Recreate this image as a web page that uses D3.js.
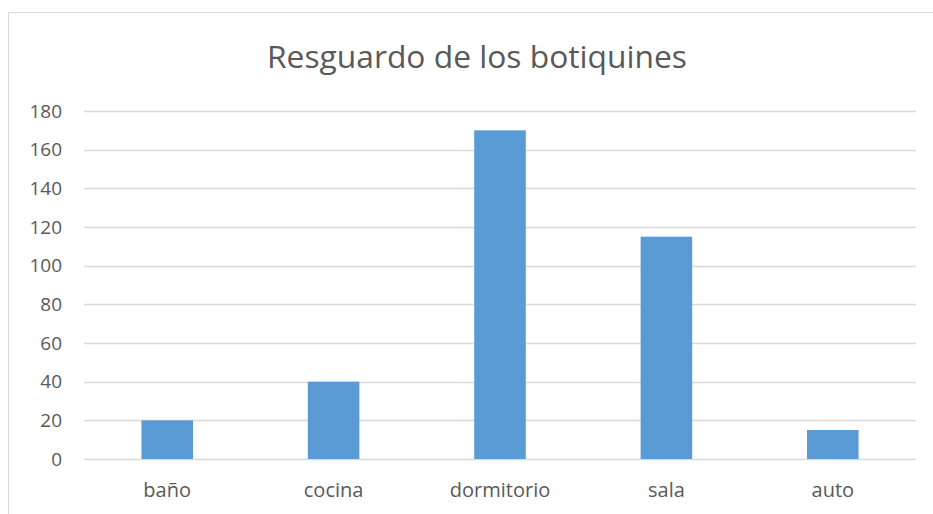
<!DOCTYPE html>
<html>
<head>
<meta charset="utf-8">
<script src="https://cdn.jsdelivr.net/npm/d3@7"></script>
<style>
  body { margin: 0; background: #fff; }
  text { font-family: "Open Sans", "Noto Sans", sans-serif; fill: #595959; }
</style>
</head>
<body>
<div id="chart"></div>
<script>
// chart data
var categories = ["baño", "cocina", "dormitorio", "sala", "auto"];
var values = [20, 40, 170, 115, 15];
var yTicks = [0, 20, 40, 60, 80, 100, 120, 140, 160, 180];
var chartTitle = "Resguardo de los botiquines";

var svgWidth = 933;
var svgHeight = 514;

var margin = { top: 111, right: 17, bottom: 55, left: 84 };
var width = svgWidth - margin.left - margin.right;
var height = svgHeight - margin.top - margin.bottom;

var svg = d3.select("#chart")
  .append("svg")
  .attr("width", svgWidth)
  .attr("height", svgHeight);

// outer frame of the chart area (runs off the right and bottom)
svg.append("rect")
  .attr("x", 8.5)
  .attr("y", 12.5)
  .attr("width", 960)
  .attr("height", 560)
  .attr("fill", "none")
  .attr("stroke", "#d9d9d9")
  .attr("stroke-width", 1);

svg.append("text")
  .attr("x", 477)
  .attr("y", 68)
  .attr("text-anchor", "middle")
  .attr("textLength", 420)
  .attr("lengthAdjust", "spacingAndGlyphs")
  .style("font-size", "31px")
  .text(chartTitle);

var chartGroup = svg.append("g")
  .attr("transform", `translate(${margin.left}, ${margin.top})`);

var x = d3.scaleBand()
  .domain(categories)
  .range([0, width])
  .paddingInner(0.69)
  .paddingOuter(0.345);

var y = d3.scaleLinear()
  .domain([0, 180])
  .range([height, 0]);

// gridlines
chartGroup.append("g")
  .selectAll("line")
  .data(yTicks)
  .enter()
  .append("line")
  .attr("x1", 0)
  .attr("x2", width)
  .attr("y1", d => Math.round(y(d)) + 0.5)
  .attr("y2", d => Math.round(y(d)) + 0.5)
  .attr("stroke", "#d9d9d9")
  .attr("stroke-width", 1.5);

// y axis labels
var leftAxis = d3.axisLeft(y).tickValues(yTicks).tickSize(0).tickPadding(22);
var yAxis = chartGroup.append("g").call(leftAxis);
yAxis.select(".domain").remove();
yAxis.selectAll("text")
  .style("font-size", "19px")
  .attr("fill", "#595959");

// bars
chartGroup.selectAll("rect.bar")
  .data(values)
  .enter()
  .append("rect")
  .attr("class", "bar")
  .attr("x", (d, i) => x(categories[i]))
  .attr("y", d => y(d))
  .attr("width", x.bandwidth())
  .attr("height", d => height - y(d))
  .attr("fill", "#5b9bd5");

// x axis labels
var bottomAxis = d3.axisBottom(x).tickSize(0).tickPadding(24);
var xAxis = chartGroup.append("g")
  .attr("transform", `translate(0, ${height})`)
  .call(bottomAxis);
xAxis.select(".domain").remove();
xAxis.selectAll("text")
  .style("font-size", "20px")
  .attr("fill", "#595959");
</script>
</body>
</html>
